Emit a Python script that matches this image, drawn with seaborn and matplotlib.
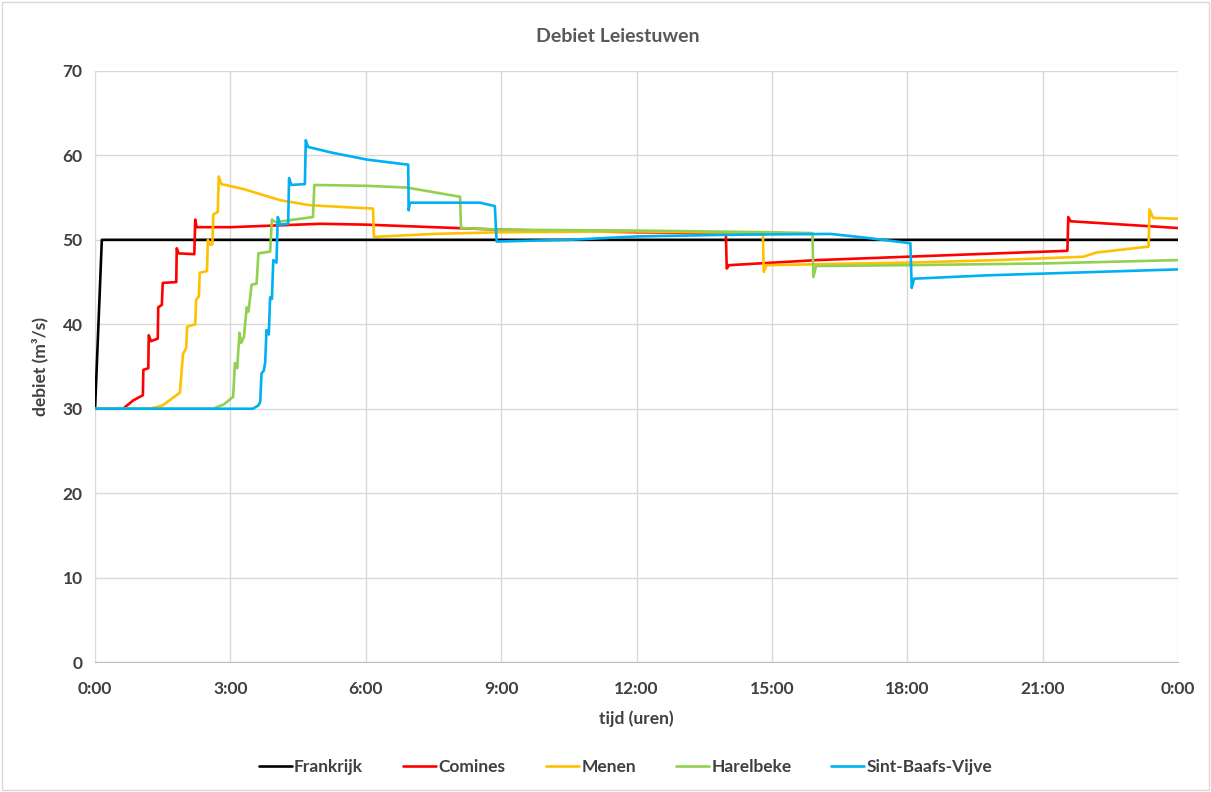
import numpy as np
import pandas as pd
import matplotlib
matplotlib.use("Agg")
import matplotlib.pyplot as plt
import seaborn as sns

# time in hours, flow in m3/s
frankrijk_t = [0, 0.15, 24]
frankrijk_q = [30, 50, 50]

comines_t = [0, 0.62, 0.85, 1.06, 1.07, 1.18, 1.19, 1.24, 1.39, 1.40, 1.48, 1.50, 1.80, 1.81, 1.85,
             2.20, 2.22, 2.25, 3.0, 4.0, 5.0, 6.0, 7.5, 9.0, 12.0, 13.98, 14.0, 14.05, 16.0, 18.0,
             20.0, 21.55, 21.57, 21.62, 24]
comines_q = [30, 30, 31.0, 31.6, 34.6, 34.8, 38.7, 38.0, 38.3, 42.0, 42.3, 44.9, 45.0, 49.0, 48.4,
             48.3, 52.4, 51.5, 51.5, 51.7, 51.9, 51.8, 51.5, 51.2, 50.9, 50.8, 46.6, 47.0, 47.6, 48.0,
             48.4, 48.7, 52.7, 52.2, 51.4]

menen_t = [0, 1.22, 1.5, 1.88, 1.95, 2.02, 2.04, 2.22, 2.24, 2.3, 2.32, 2.48, 2.5, 2.55, 2.6, 2.62,
           2.72, 2.74, 2.8, 3.3, 4.1, 4.76, 6.16, 6.18, 7.5, 9.0, 12.0, 14.8, 14.82, 14.88, 18.0,
           20.0, 21.9, 22.2, 23.35, 23.37, 23.45, 24]
menen_q = [30, 30, 30.4, 31.9, 36.5, 37.2, 39.7, 40.0, 42.9, 43.3, 46.1, 46.3, 50.0, 49.4, 49.5, 53.0,
           53.3, 57.5, 56.6, 56.0, 54.7, 54.1, 53.7, 50.35, 50.7, 50.9, 51.0, 50.8, 46.2, 47.0, 47.3,
           47.6, 48.0, 48.5, 49.2, 53.6, 52.6, 52.5]

harelbeke_t = [0, 2.61, 2.85, 3.06, 3.1, 3.15, 3.2, 3.24, 3.3, 3.36, 3.4, 3.47, 3.58, 3.62, 3.88,
               3.92, 4.0, 4.83, 4.86, 6.0, 6.9, 8.09, 8.11, 9.0, 12.0, 15.0, 15.9, 15.92, 15.98,
               18.0, 21.0, 24]
harelbeke_q = [30, 30, 30.5, 31.4, 35.4, 34.8, 39.0, 37.8, 38.5, 42.0, 41.5, 44.7, 44.8, 48.4, 48.6,
               52.4, 52.1, 52.7, 56.5, 56.4, 56.2, 55.1, 51.4, 51.2, 51.1, 50.9, 50.8, 45.6, 46.9,
               47.0, 47.2, 47.6]

sbv_t = [0, 3.5, 3.62, 3.66, 3.69, 3.74, 3.77, 3.8, 3.85, 3.88, 3.92, 3.95, 4.02, 4.05, 4.1, 4.28,
         4.3, 4.35, 4.65, 4.67, 4.72, 5.27, 6.03, 6.94, 6.95, 6.98, 8.53, 8.86, 8.9, 10.5, 12.0,
         14.0, 16.3, 17.0, 18.07, 18.1, 18.15, 19.8, 24]
sbv_q = [30, 30, 30.4, 30.8, 34.2, 34.5, 35.5, 39.3, 38.8, 43.2, 43.0, 47.6, 47.3, 52.7, 51.8, 51.9,
         57.3, 56.5, 56.6, 61.8, 61.0, 60.3, 59.5, 58.9, 53.5, 54.4, 54.4, 54.0, 49.8, 50.0, 50.4,
         50.6, 50.7, 50.3, 49.6, 44.3, 45.4, 45.8, 46.5]

names = ["Frankrijk", "Comines", "Menen", "Harelbeke", "Sint-Baafs-Vijve"]
colors = ["#000000", "#FF0000", "#FFC000", "#92D050", "#00B0F0"]
xtick_labels = ["0:00", "3:00", "6:00", "9:00", "12:00", "15:00", "18:00", "21:00", "0:00"]

series = [(frankrijk_t, frankrijk_q), (comines_t, comines_q), (menen_t, menen_q),
          (harelbeke_t, harelbeke_q), (sbv_t, sbv_q)]
frames = []
for name, (t, q) in zip(names, series):
    frames.append(pd.DataFrame({"t": t, "q": q, "stuw": name}))
df = pd.concat(frames, ignore_index=True)

sns.set_style("white")
plt.rcParams["font.family"] = ["Lato", "DejaVu Sans"]

fig = plt.figure(figsize=(12.11, 7.92), dpi=100)
ax = fig.add_axes([0.0785, 0.1641, 0.8942, 0.7463])

for name, c in zip(names, colors):
    sub = df[df["stuw"] == name]
    sns.lineplot(data=sub, x="t", y="q", color=c, lw=1.9, sort=False, estimator=None,
                 ax=ax, label=name)

ax.set_xlim(0, 24)
ax.set_ylim(0, 70)
ax.set_xticks(np.arange(0, 25, 3))
ax.set_xticklabels(xtick_labels)
ax.set_yticks(np.arange(0, 71, 10))
ax.grid(True, color="#d9d9d9", lw=1)
for s in ["left", "right", "top"]:
    ax.spines[s].set_visible(False)
ax.spines["bottom"].set_color("#bfbfbf")
ax.tick_params(axis="both", length=0, labelsize=12.5, labelcolor="#404040")
ax.tick_params(axis="x", pad=14)
ax.tick_params(axis="y", pad=9)
for lab in ax.get_xticklabels() + ax.get_yticklabels():
    lab.set_fontweight("bold")

ax.set_xlabel("tijd (uren)", fontsize=12.5, color="#404040", fontweight="bold", labelpad=9)
ax.set_ylabel("debiet (m³/s)", fontsize=12.5, color="#404040", fontweight="bold", labelpad=10)
fig.suptitle("Debiet Leiestuwen", x=0.51, y=0.965, fontsize=14, color="#595959", fontweight="bold")

ax.legend(loc="center", bbox_to_anchor=(0.49, -0.177), ncol=5, frameon=False, fontsize=12.5,
          handlelength=1.9, handletextpad=0.15, columnspacing=2.3, labelcolor="#404040")
for t in ax.get_legend().get_texts():
    t.set_fontweight("bold")

fig.patches.append(plt.Rectangle((0.002, 0.002), 0.996, 0.996, transform=fig.transFigure,
                                 fill=False, edgecolor="#d9d9d9", lw=1))

fig.savefig("out.png", dpi=100)
